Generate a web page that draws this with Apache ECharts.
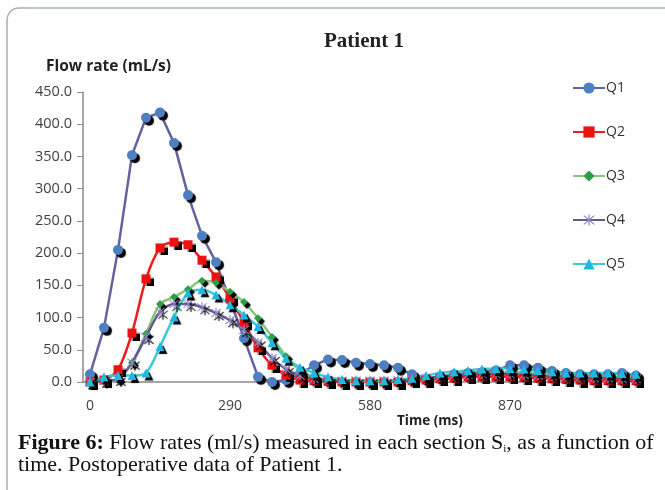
<!DOCTYPE html>
<html>
<head>
<meta charset="utf-8">
<script src="https://cdn.jsdelivr.net/npm/echarts@6/dist/echarts.min.js"></script>
<style>
html,body{margin:0;padding:0;background:#fff;}
#c{width:665px;height:490px;}
</style>
</head>
<body>
<div id="c"></div>
<script>
const timesMs = [0,29,58,87,116,145,174,203,232,261,290,319,348,377,406,435,464,493,522,551,580,609,638,667,696,725,754,783,812,841,870,899,928,957,986,1015,1044,1073,1102,1131];
const yTicks = [0,50,100,150,200,250,300,350,400,450];
const Q1 = [12,84,205,352,410,418,371,290,227,186,127,68,8,0,3,12,26,35,34,30,28,26,22,12,5,8,12,14,15,18,26,26,22,17,14,12,12,12,14,10];
const Q2 = [0,3,19,76,160,208,217,213,189,163,130,92,53,26,11,3,2,1,0,0,0,0,0,2,3,5,6,8,8,8,8,7,6,5,4,3,2,2,2,2];
const Q3 = [0,2,4,30,75,121,132,144,157,154,140,124,99,70,40,18,8,3,2,1,1,1,2,4,6,8,10,12,13,14,15,15,14,13,12,11,10,9,8,8];
const Q4 = [0,2,5,30,70,109,121,121,116,107,96,81,61,37,20,10,5,3,2,2,2,2,3,4,6,8,10,11,12,12,12,11,10,9,8,7,6,6,5,5];
const Q5 = [0,8,10,10,14,55,101,138,143,135,120,104,86,61,37,23,14,8,4,2,2,2,4,6,10,14,16,18,20,21,21,20,18,16,14,14,14,14,13,12];

const asterisk = 'path://M9,0L11,0L11,20L9,20Z M2.7,1.3L18.7,17.3L17.3,18.7L1.3,2.7Z M17.3,1.3L18.7,2.7L2.7,18.7L1.3,17.3Z';
const shadow = {shadowColor:'#000', shadowOffsetX:3, shadowOffsetY:3, shadowBlur:1};

function mk(name, data, lineColor, markColor, symbol, size, smooth){
  return {
    name, type:'line', data, smooth, symbol, symbolSize:size, showAllSymbol:true,
    lineStyle:{color:lineColor, width:2.5},
    itemStyle:Object.assign({color:markColor, borderWidth:0}, shadow),
    emphasis:{disabled:true}
  };
}

const chart = echarts.init(document.getElementById('c'), null, {renderer:'canvas'});
chart.setOption({
  animation:false,
  backgroundColor:'#fff',
  textStyle:{fontFamily:'Open Sans'},
  title:{text:'Patient 1', left:319, top:26,
    textStyle:{fontFamily:'Liberation Serif', fontWeight:'bold', fontSize:21, color:'#222'}},
  grid:{left:83, right:22, top:92, bottom:108, containLabel:false},
  legend:{orient:'vertical', left:567, top:76, itemGap:30, itemWidth:32, itemHeight:14,
    textStyle:{fontFamily:'Open Sans', fontSize:14, color:'#333', padding:[0,0,0,-4]},
    itemStyle:{shadowColor:'transparent', shadowOffsetX:0, shadowOffsetY:0},
    data:['Q1','Q2','Q3','Q4','Q5']},
  xAxis:{type:'category', data:timesMs, boundaryGap:true,
    axisLine:{lineStyle:{color:'#8a8a8a', width:1.5}},
    axisTick:{interval:0, length:5, lineStyle:{color:'#8a8a8a'}},
    axisLabel:{interval:9, margin:17, fontSize:14, color:'#404040', fontFamily:'Open Sans'}},
  yAxis:{type:'value', min:0, max:450, interval:50,
    axisLine:{show:true, lineStyle:{color:'#8a8a8a', width:1.5}},
    axisTick:{show:true, length:6, lineStyle:{color:'#8a8a8a'}},
    splitLine:{show:false},
    axisLabel:{formatter:v=>v.toFixed(1), margin:11, fontSize:14.5, color:'#404040', fontFamily:'Open Sans'}},
  graphic:[
    {type:'rect', shape:{x:7, y:8, width:720, height:520, r:12}, style:{fill:'none', stroke:'#a9aebb', lineWidth:1.5}, z:-10},
    {type:'text', left:46, top:59, style:{text:'Flow rate (mL/s)', fontFamily:'Open Sans', fontWeight:'bold', fontSize:15.5, fill:'#222'}},
    {type:'text', left:397, top:414, style:{text:'Time (ms)', fontFamily:'Open Sans', fontWeight:'bold', fontSize:13.5, fill:'#222'}},
    {type:'text', left:18, top:432, style:{
      text:'{b|Figure 6:} Flow rates (ml/s) measured in each section S{s|i}, as a function of\ntime. Postoperative data of Patient 1.',
      fontFamily:'Liberation Serif', fontSize:22, fill:'#111', lineHeight:22,
      rich:{b:{fontFamily:'Liberation Serif', fontWeight:'bold', fontSize:22, fill:'#111'},
            s:{fontFamily:'Liberation Serif', fontSize:11, fill:'#111', padding:[12,0,0,0]}}
    }}
  ],
  series:[
    mk('Q1', Q1, '#62629f', '#4f7fc0', 'circle', 10, false),
    mk('Q2', Q2, '#ee1c1c', '#ee1111', 'rect', 9, 0.3),
    mk('Q3', Q3, '#8cc47a', '#2e9d4a', 'diamond', 8, 0.3),
    mk('Q4', Q4, '#605a92', '#8f86c8', asterisk, 10, 0.3),
    mk('Q5', Q5, '#3ccad6', '#1fb8e2', 'triangle', 9, 0.3)
  ]
});
</script>
</body>
</html>
